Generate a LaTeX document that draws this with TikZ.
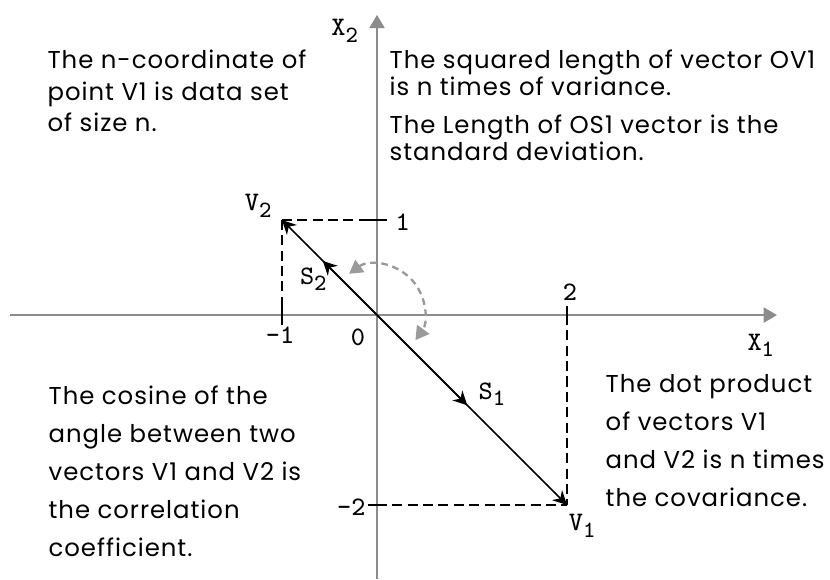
\documentclass[tikz,border=0pt]{standalone}
\usepackage{fontspec}
\setmainfont{Poppins}
\newfontfamily\notefont[LetterSpace=4]{Poppins}
\usetikzlibrary{arrows.meta}
\definecolor{AxisGray}{HTML}{8C8C8C}
\definecolor{ArcGray}{HTML}{9A9A9A}
\newcommand{\low}[1]{\raisebox{-0.55ex}{\fontsize{7}{7}\selectfont #1}}

\begin{document}
\begin{tikzpicture}[
	x=1cm, y=1cm,
	axis/.style={
		draw=AxisGray,
		line width=0.7pt,
		-{Triangle[length=4pt,width=4.5pt]}
	},
	tick/.style={
		draw=black,
		line width=0.6pt
	},
	guide/.style={
		draw=black,
		line width=0.5pt,
		dash pattern=on 3pt off 1.6pt
	},
	vec/.style={
		draw=black,
		line width=0.45pt,
		-{Stealth[length=4.2pt,width=4.2pt]}
	},
	turn/.style={
		draw=ArcGray,
		line width=0.7pt,
		dash pattern=on 2pt off 1.4pt,
		{Triangle[length=4pt,width=4.5pt]}-{Triangle[length=4pt,width=4.5pt]}
	},
	note/.style={
		align=left,
		anchor=north west,
		inner sep=0pt
	},
	mark label/.style={
		font=\ttfamily\fontsize{8}{8}\selectfont,
		inner sep=0pt
	}
	]
	\useasboundingbox (-3.968,-2.779) rectangle (4.768,3.316);
	
	% ================= POINTS =================
	\coordinate (O) at (0,0);
	\coordinate (V1) at (2,-2);
	\coordinate (V2) at (-1,1);
	\coordinate (S1) at (0.95,-0.95);
	\coordinate (S2) at (-0.57,0.57);
	\coordinate (T1) at (2,0);
	\coordinate (T2) at (0,1);
	\coordinate (U1) at (-1,0);
	\coordinate (U2) at (0,-2);
	\coordinate (xl) at (-3.86,0);
	\coordinate (xr) at (4.21,0);
	\coordinate (yb) at (0,-2.78);
	\coordinate (yt) at (0,3.16);
	
	% ================= AXES =================
	\draw[axis] (xl) -- (xr);
	\draw[axis] (yb) -- (yt);
	\node[mark label] (X1) at (4.04,-0.32) {X\low{1}};
	\node[mark label] (X2) at (-0.34,2.99) {X\low{2}};
	
	% ================= GUIDES =================
	\draw[guide] (V2) -- (U1);
	\draw[guide] (V2) -- (T2);
	\draw[guide] (T1) -- (V1);
	\draw[guide] (U2) -- (V1);
	
	% ================= TICKS =================
	\draw[tick] ([yshift=-0.1cm]U1) -- ([yshift=0.1cm]U1);
	\draw[tick] ([yshift=-0.1cm]T1) -- ([yshift=0.1cm]T1);
	\draw[tick] ([xshift=-0.1cm]T2) -- ([xshift=0.1cm]T2);
	\draw[tick] ([xshift=-0.1cm]U2) -- ([xshift=0.1cm]U2);
	\node[mark label] (n1) at (0.27,0.98) {1};
	\node[mark label] (n2) at (2.03,0.24) {2};
	\node[mark label] (m1) at (-1.02,-0.21) {-1};
	\node[mark label] (n0) at (-0.2,-0.23) {0};
	\node[mark label] (m2) at (-0.27,-2.02) {-2};
	
	% ================= VECTORS =================
	\draw[vec] (O) -- (V1);
	\draw[vec] (O) -- (V2);
	\draw[vec] (O) -- (S1);
	\draw[vec] (O) -- (S2);
	\node[mark label] (lV1) at (2.16,-2.22) {V\low{1}};
	\node[mark label] (lV2) at (-1.25,1.15) {V\low{2}};
	\node[mark label] (lS1) at (1.21,-0.83) {S\low{1}};
	\node[mark label] (lS2) at (-0.67,0.38) {S\low{2}};
	
	% angle between the vectors
	\draw[turn] (0,0.03) ++(126:0.5) arc[start angle=126, end angle=-36, radius=0.5];
	
	% ================= NOTES =================
	\node[note, font=\notefont\fontsize{7.3}{9.5}\selectfont] (tl) at (-3.474,2.8)
		{The n-coordinate of\\point V1 is data set\\of size n.};
	\node[note, font=\notefont\fontsize{7.3}{8.1}\selectfont] (tr) at (0.126,2.8)
		{The squared length of vector OV1\\is n times of variance.\\[3.4pt]The Length of OS1 vector is the\\standard deviation.};
	\node[note, font=\notefont\fontsize{7.3}{11.4}\selectfont] (bl) at (-3.463,-0.74)
		{The cosine of the\\angle between two\\vectors V1 and V2 is\\the correlation\\coefficient.};
	\node[note, font=\notefont\fontsize{7.3}{11.4}\selectfont] (br) at (2.4,-0.62)
		{The dot product\\of vectors V1\\and V2 is n times\\the covariance.};
	
\end{tikzpicture}
\end{document}
